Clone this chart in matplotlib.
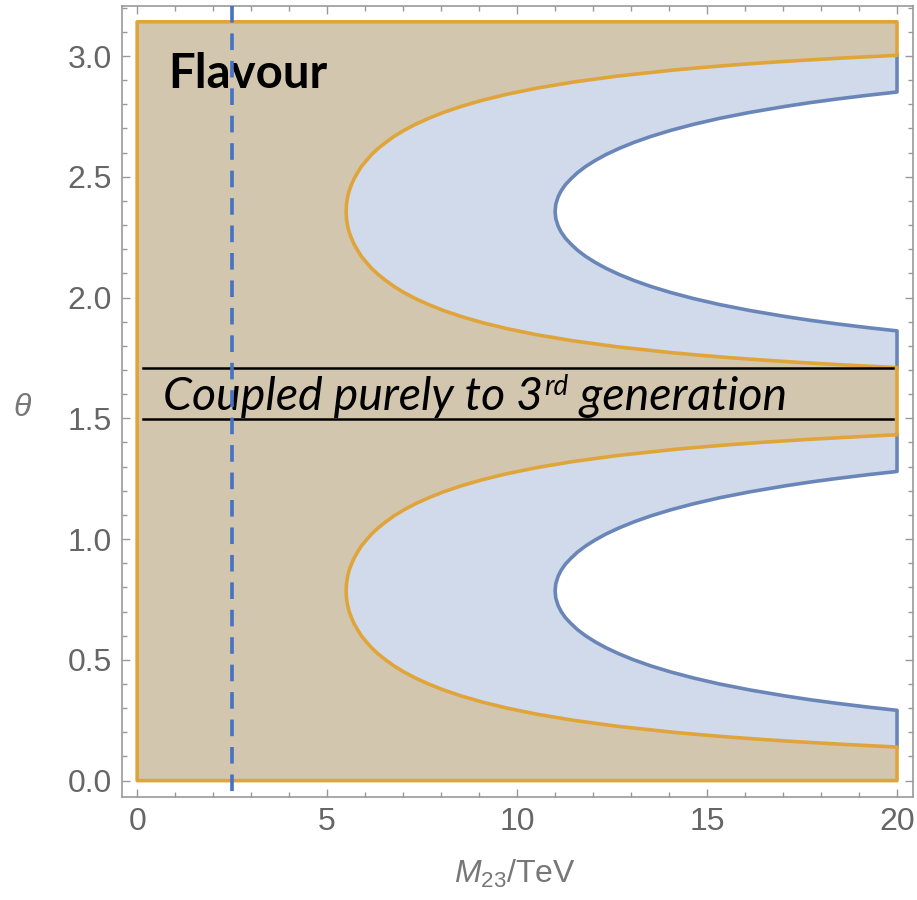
import matplotlib
matplotlib.use("Agg")
import matplotlib.pyplot as plt
from matplotlib.ticker import MultipleLocator

# --------------------
# Data
# --------------------
M_MIN, M_MAX = 0.0, 20.0
THETA_MAX = 3.1416

# orange boundary (flavour bound), lower and upper band, (theta, M/TeV)
theta_orange_lo = [0.139, 0.15, 0.16, 0.17, 0.18, 0.19, 0.20, 0.225, 0.25, 0.275, 0.30, 0.325, 0.35, 0.375, 0.40,
                   0.425, 0.45, 0.475, 0.50, 0.525, 0.55, 0.575, 0.60, 0.625, 0.65, 0.675, 0.70, 0.725, 0.755, 0.785,
                   0.816, 0.846, 0.871, 0.896, 0.921, 0.946, 0.971, 0.996, 1.021, 1.046, 1.071, 1.096, 1.121, 1.146,
                   1.171, 1.196, 1.221, 1.246, 1.271, 1.296, 1.321, 1.346, 1.371, 1.381, 1.391, 1.401, 1.411, 1.421, 1.432]
theta_orange_hi = [1.710, 1.721, 1.731, 1.741, 1.751, 1.761, 1.771, 1.796, 1.821, 1.846, 1.871, 1.896, 1.921, 1.946, 1.971,
                   1.996, 2.021, 2.046, 2.071, 2.096, 2.121, 2.146, 2.171, 2.196, 2.221, 2.246, 2.271, 2.296, 2.326, 2.356,
                   2.387, 2.417, 2.442, 2.467, 2.492, 2.517, 2.542, 2.567, 2.592, 2.617, 2.642, 2.667, 2.692, 2.717,
                   2.742, 2.767, 2.792, 2.817, 2.842, 2.867, 2.892, 2.917, 2.942, 2.952, 2.962, 2.972, 2.982, 2.992, 3.003]
m_orange = [20.0, 18.61, 17.48, 16.49, 15.61, 14.83, 14.12, 12.64, 11.47, 10.52, 9.74, 9.09, 8.54, 8.07, 7.67,
            7.32, 7.02, 6.76, 6.54, 6.34, 6.17, 6.03, 5.90, 5.80, 5.71, 5.64, 5.58, 5.54, 5.51, 5.50,
            5.51, 5.54, 5.58, 5.64, 5.71, 5.80, 5.90, 6.03, 6.17, 6.34, 6.54, 6.76, 7.02, 7.32,
            7.67, 8.07, 8.54, 9.09, 9.74, 10.52, 11.47, 12.64, 14.12, 14.83, 15.61, 16.49, 17.48, 18.61, 20.0]

# blue boundary, lower and upper band
theta_blue_lo = [0.291, 0.305, 0.32, 0.335, 0.35, 0.375, 0.40, 0.425, 0.45, 0.475, 0.50, 0.525, 0.55, 0.575, 0.60,
                 0.625, 0.65, 0.675, 0.70, 0.725, 0.755, 0.785, 0.816, 0.846, 0.871, 0.896, 0.921, 0.946, 0.971,
                 0.996, 1.021, 1.046, 1.071, 1.096, 1.121, 1.146, 1.171, 1.196, 1.221, 1.236, 1.251, 1.266, 1.280]
theta_blue_hi = [1.862, 1.876, 1.891, 1.906, 1.921, 1.946, 1.971, 1.996, 2.021, 2.046, 2.071, 2.096, 2.121, 2.146, 2.171,
                 2.196, 2.221, 2.246, 2.271, 2.296, 2.326, 2.356, 2.387, 2.417, 2.442, 2.467, 2.492, 2.517, 2.542,
                 2.567, 2.592, 2.617, 2.642, 2.667, 2.692, 2.717, 2.742, 2.767, 2.792, 2.807, 2.822, 2.837, 2.851]
m_blue = [20.0, 19.20, 18.42, 17.71, 17.08, 16.14, 15.33, 14.64, 14.04, 13.52, 13.07, 12.68, 12.34, 12.05, 11.80,
          11.59, 11.42, 11.27, 11.16, 11.08, 11.02, 11.0, 11.02, 11.08, 11.16, 11.27, 11.42, 11.59, 11.80,
          12.05, 12.34, 12.68, 13.07, 13.52, 14.04, 14.64, 15.33, 16.14, 17.08, 17.71, 18.42, 19.20, 20.0]

third_gen_band = [1.497, 1.708]
m_dashed = 2.5

# colours
TAN = "#d3c6af"
LIGHT_BLUE = "#d0daea"
ORANGE = "#e0a53a"
BLUE = "#6a86b8"
DASH_BLUE = "#4472c4"

# --------------------
# Style
# --------------------
plt.rcParams["font.family"] = ["Liberation Sans", "DejaVu Sans"]
plt.rcParams["mathtext.fontset"] = "custom"
plt.rcParams["mathtext.rm"] = "Liberation Sans"
plt.rcParams["mathtext.it"] = "Liberation Sans:italic"

fig = plt.figure(figsize=(9.17, 9.0), dpi=100)
ax = fig.add_axes([0.133, 0.1144, 0.8626, 0.8789])

# --------------------
# Regions
# --------------------
# blue region covers whole domain, white holes cut out beyond the blue curve
ax.fill([M_MIN, M_MAX, M_MAX, M_MIN], [0, 0, THETA_MAX, THETA_MAX], color=LIGHT_BLUE, lw=0, zorder=1)
for th in (theta_blue_lo, theta_blue_hi):
    ax.fill(m_blue, th, color="white", lw=0, zorder=2)

# blue outlines incl. the short pieces on the right edge
for th_b, th_o in ((theta_blue_lo, theta_orange_lo), (theta_blue_hi, theta_orange_hi)):
    ax.plot([M_MAX] + m_blue + [M_MAX], [th_o[0]] + th_b + [th_o[-1]], color=BLUE, lw=2.6,
            solid_joinstyle="round", zorder=3)

# tan (flavour) region with orange edge
poly_x = [M_MIN, M_MAX] + m_orange + m_orange + [M_MAX, M_MIN]
poly_y = [0, 0] + theta_orange_lo + theta_orange_hi + [THETA_MAX, THETA_MAX]
ax.fill(poly_x, poly_y, facecolor=TAN, edgecolor=ORANGE, lw=2.6, zorder=4, joinstyle="round")

# --------------------
# Annotations
# --------------------
for yb in third_gen_band:
    ax.plot([0.15, 19.9], [yb, yb], color="black", lw=1.8, zorder=5)

ax.text(0.82, 2.868, "Flavour", fontfamily="Lato", fontweight="bold", fontsize=34,
        va="baseline", ha="left", zorder=6)

t1 = ax.text(0.68, 1.534, "Coupled purely to 3", fontfamily="Lato", fontstyle="italic",
             fontsize=33.5, va="baseline", ha="left", zorder=6)
t2 = ax.annotate("rd", xy=(1, 0), xycoords=t1, xytext=(1, 13), textcoords="offset points",
                 fontfamily="Lato", fontstyle="italic", fontsize=20, va="bottom", ha="left", zorder=6)
ax.annotate(" generation", xy=(1, 0), xycoords=(t2, t1), fontfamily="Lato", fontstyle="italic",
            fontsize=33.5, va="bottom", ha="left", zorder=6)

ax.plot([m_dashed, m_dashed], [1.0, 0.004], transform=ax.get_xaxis_transform(), color=DASH_BLUE,
        lw=2.6, dashes=(4.6, 3.0), clip_on=False, zorder=7)

# --------------------
# Axes
# --------------------
ax.set_xlim(-0.4, 20.42)
ax.set_ylim(-0.068, 3.207)
ax.xaxis.set_major_locator(MultipleLocator(5))
ax.xaxis.set_minor_locator(MultipleLocator(1))
ax.yaxis.set_major_locator(MultipleLocator(0.5))
ax.yaxis.set_minor_locator(MultipleLocator(0.1))
ax.yaxis.set_major_formatter(plt.FormatStrFormatter("%.1f"))

ax.tick_params(which="both", direction="in", top=True, right=True, color="#999999", width=1)
ax.tick_params(which="major", length=6, labelsize=23, labelcolor="#666666", pad=7)
ax.tick_params(which="minor", length=3.5)
for sp in ax.spines.values():
    sp.set_color("#999999")
    sp.set_linewidth(1.2)

ax.set_xlabel("$M_{23}$/TeV", fontsize=23, color="#777777")
ax.xaxis.set_label_coords(0.497, -0.077)
ax.set_ylabel(r"$\theta$", fontsize=23, color="#777777", rotation=0, va="center", ha="center")
ax.yaxis.set_label_coords(-0.126, 0.492)

plt.savefig("out.png", dpi=100)
